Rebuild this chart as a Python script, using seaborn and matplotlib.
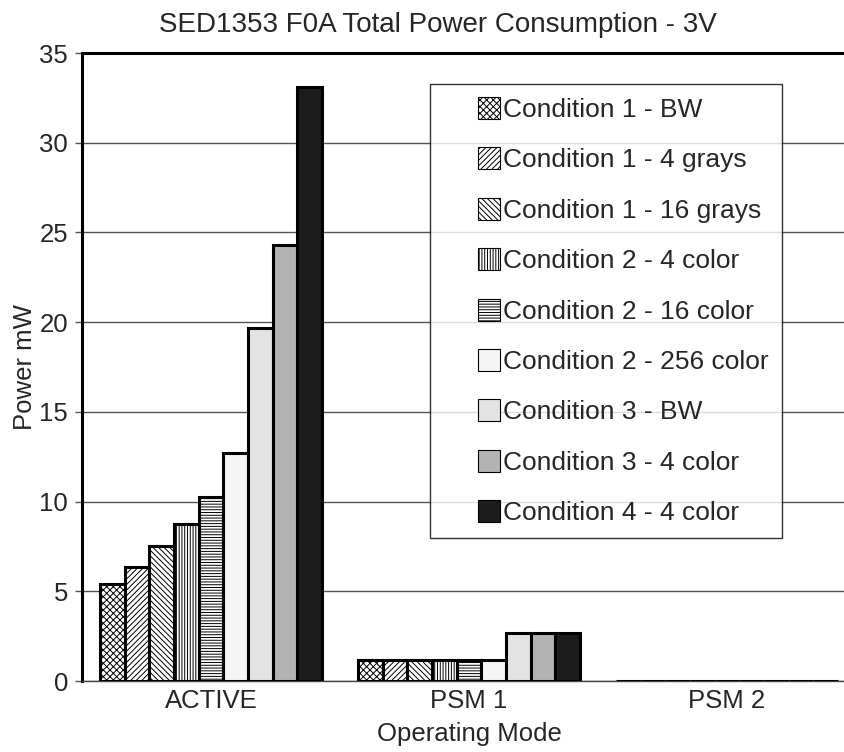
import seaborn as sns
import matplotlib.pyplot as plt
import pandas as pd
from matplotlib.patches import Patch, Rectangle
from matplotlib.legend_handler import HandlerPatch

# 데이터
modes = ['ACTIVE', 'PSM 1', 'PSM 2']
conditions = ['Condition 1 - BW', 'Condition 1 - 4 grays', 'Condition 1 - 16 grays',
              'Condition 2 - 4 color', 'Condition 2 - 16 color', 'Condition 2 - 256 color',
              'Condition 3 - BW', 'Condition 3 - 4 color', 'Condition 4 - 4 color']
active = [5.4, 6.35, 7.55, 8.75, 10.25, 12.7, 19.7, 24.3, 33.1]
psm1 = [1.15, 1.15, 1.15, 1.15, 1.15, 1.15, 2.7, 2.7, 2.7]
psm2 = [0, 0, 0, 0, 0, 0, 0, 0, 0]

colors = ['white', 'white', 'white', 'white', 'white', '#f5f5f5', '#e3e3e3', '#b3b3b3', '#1c1c1c']
hatches = ['xxxxx', '//////', '\\\\\\\\\\\\', '||||||', '------', '', '', '', '']

rows = []
for mode, vals in zip(modes, [active, psm1, psm2]):
    for cond, v in zip(conditions, vals):
        rows.append({'mode': mode, 'cond': cond, 'power': v})
df = pd.DataFrame(rows)

sns.set_style('white')
plt.rcParams['font.family'] = ['Liberation Sans', 'DejaVu Sans']
plt.rcParams['hatch.linewidth'] = 0.7

fig = plt.figure(figsize=(8.44, 7.52), dpi=100)
ax = fig.add_axes([0.0972, 0.0944, 0.917, 0.835])

sns.barplot(data=df, x='mode', y='power', hue='cond', hue_order=conditions,
            order=modes, palette=colors, width=0.86, ax=ax,
            edgecolor='black', linewidth=2.2, legend=False, zorder=3)

for cont, h in zip(ax.containers, hatches):
    for bar in cont.patches:
        bar.set_hatch(h)

ax.set_ylim(0, 35)
ax.set_xlim(-0.5, 2.5)
ax.set_yticks(range(0, 36, 5))
ax.yaxis.grid(True, color='#555555', linewidth=1)
ax.set_axisbelow(True)
ax.set_xticks([0, 1, 2])
ax.set_xticklabels(modes)
ax.set_xticks([0.5, 1.5], minor=True)
ax.tick_params(axis='x', which='major', length=0, labelsize=18.5, pad=6)
ax.tick_params(axis='x', which='minor', length=6, width=1, direction='inout', color='#333333')
ax.tick_params(axis='y', length=5, width=1, direction='out', left=True, labelsize=18.5,
               color='#555555', pad=5)

for s in ['left', 'top']:
    ax.spines[s].set_linewidth(2.2)
    ax.spines[s].set_color('black')
ax.spines['right'].set_visible(False)
ax.spines['bottom'].set_linewidth(1)
ax.spines['bottom'].set_color('#444444')

ax.set_xlabel('Operating Mode', fontsize=18.5, labelpad=6)
ax.set_ylabel('Power mW', fontsize=18.5, labelpad=2)
ax.set_title('SED1353 F0A Total Power Consumption - 3V', fontsize=20, pad=15, x=0.46)


# 범례 핸들: 오른쪽에 작은 정사각형
def square_right(legend, orig_handle, xdescent, ydescent, width, height, fontsize):
    side = height
    return Rectangle((-xdescent + width - side, -ydescent), side, height)


handles = [Patch(facecolor=c, edgecolor='black', hatch=h, linewidth=0.8) for c, h in zip(colors, hatches)]
leg = ax.legend(handles, conditions, loc='upper left', bbox_to_anchor=(0.45, 0.951),
                fontsize=19, frameon=True, fancybox=False, edgecolor='black',
                handlelength=2.15, handleheight=0.9, handletextpad=0.12,
                labelspacing=0.96, borderpad=0.5, borderaxespad=0,
                handler_map={Patch: HandlerPatch(patch_func=square_right)})
leg.get_frame().set_linewidth(1)
leg.set_zorder(5)

plt.savefig('out.png', dpi=100)
